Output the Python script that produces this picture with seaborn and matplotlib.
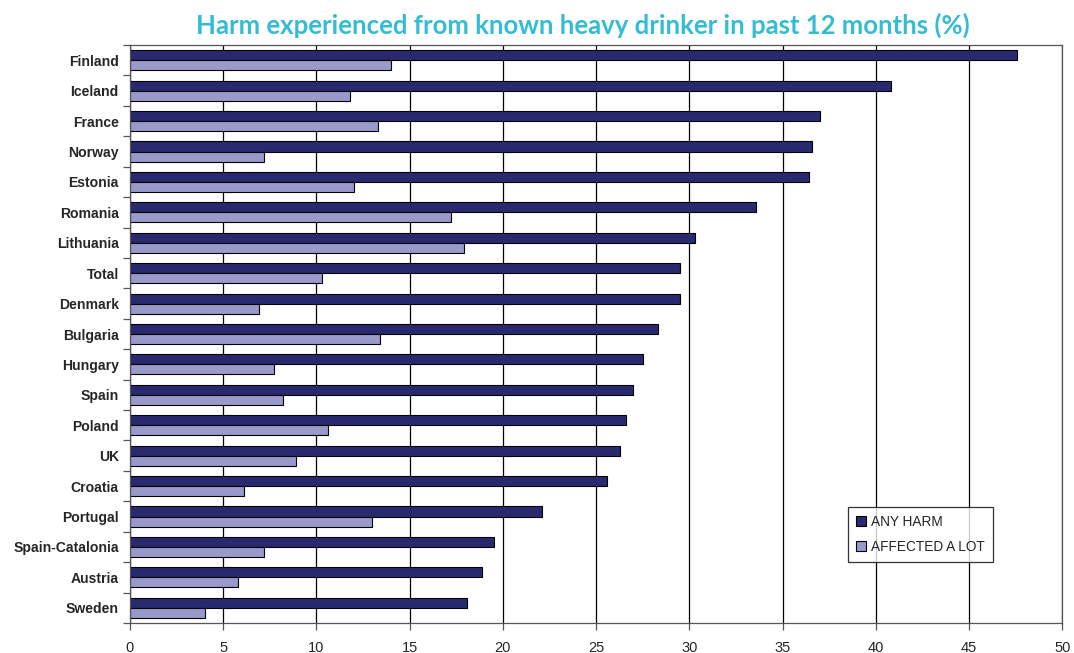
import pandas as pd
import matplotlib
matplotlib.use("Agg")
import matplotlib.pyplot as plt
import seaborn as sns

# Values (%)
countries = ["Finland", "Iceland", "France", "Norway", "Estonia", "Romania",
             "Lithuania", "Total", "Denmark", "Bulgaria", "Hungary", "Spain",
             "Poland", "UK", "Croatia", "Portugal", "Spain-Catalonia",
             "Austria", "Sweden"]
any_harm = [47.6, 40.8, 37.0, 36.6, 36.4, 33.6, 30.3, 29.5, 29.5, 28.3,
            27.5, 27.0, 26.6, 26.3, 25.6, 22.1, 19.5, 18.9, 18.1]
affected_a_lot = [14.0, 11.8, 13.3, 7.2, 12.0, 17.2, 17.9, 10.3, 6.9, 13.4,
                  7.7, 8.2, 10.6, 8.9, 6.1, 13.0, 7.2, 5.8, 4.0]
series_names = ["ANY HARM", "AFFECTED A LOT"]
x_ticks = [0, 5, 10, 15, 20, 25, 30, 35, 40, 45, 50]

# Long format for seaborn
df = pd.concat([
    pd.DataFrame({"country": countries, "value": any_harm, "series": series_names[0]}),
    pd.DataFrame({"country": countries, "value": affected_a_lot, "series": series_names[1]}),
])

sns.set_style("white")
plt.rcParams["font.family"] = ["Liberation Sans", "DejaVu Sans"]

fig = plt.figure(figsize=(10.74, 6.53), dpi=100)
ax = fig.add_axes([0.121, 0.046, 0.868, 0.885])

sns.barplot(data=df, y="country", x="value", hue="series", orient="h",
            palette=["#29296f", "#9999cc"], saturation=1, edgecolor="black",
            linewidth=0.8, width=0.66, gap=0, order=countries,
            hue_order=series_names, ax=ax)

# Gridlines and axes frame
ax.set_xlim(0, 50)
ax.set_xticks(x_ticks)
ax.xaxis.grid(True, color="black", linewidth=0.9)
ax.set_axisbelow(True)
for sp in ax.spines.values():
    sp.set_visible(True)
    sp.set_color("#555555")
    sp.set_linewidth(0.9)

ax.set_xlabel("")
ax.set_ylabel("")
ax.tick_params(axis="x", direction="out", length=5, width=0.9, color="#555555",
               labelsize=10.5, pad=8, bottom=True)
ax.tick_params(axis="y", which="major", length=0, labelsize=10.1, pad=8)
ax.set_yticks([i + 0.5 for i in range(-1, len(countries))], minor=True)
ax.tick_params(axis="y", which="minor", direction="out", length=5, width=0.9,
               color="#555555", left=True)
for lab in ax.get_yticklabels():
    lab.set_fontweight("bold")

# Legend
leg = ax.legend(loc="lower left", bbox_to_anchor=(0.763, 0.094), frameon=True,
                fancybox=False, edgecolor="black", fontsize=9.8,
                handlelength=0.7, handleheight=0.7, handletextpad=0.4,
                borderpad=0.6, labelspacing=0.8)
leg.get_frame().set_linewidth(0.9)

fig.text(0.543, 0.961, "Harm experienced from known heavy drinker in past 12 months (%)",
         ha="center", va="center", fontsize=18.5, fontweight="bold",
         color="#33bcd4", family=["Lato", "DejaVu Sans"])

fig.savefig("out.png", dpi=100)
